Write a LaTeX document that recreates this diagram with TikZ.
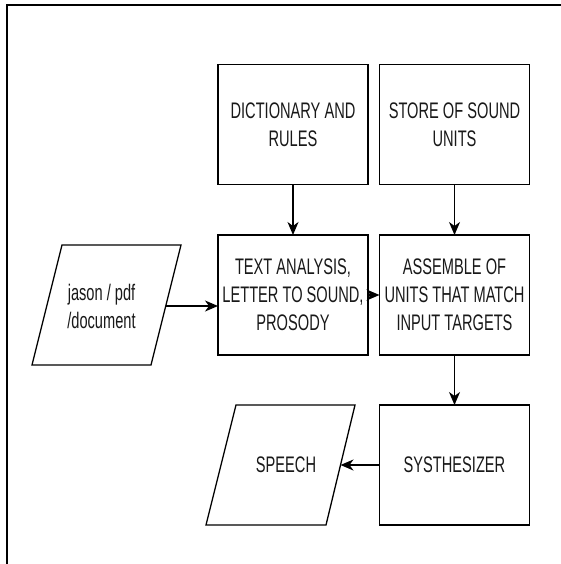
\documentclass[tikz,border=0pt]{standalone}
\usepackage{fontspec}
\newfontfamily\diagfont[FakeStretch=0.65]{Liberation Sans}
\usetikzlibrary{arrows.meta}

\begin{document}
\begin{tikzpicture}[x=1pt,y=-1pt,
  lbl/.style={font=\diagfont\fontsize{22.5}{28}\selectfont, text=black!90, align=center},
  box/.style={lbl, draw, rectangle, line width=1.3pt, minimum width=150pt,
    minimum height=120pt, inner sep=0pt, outer sep=0pt},
  ioshape/.style={draw, line width=1.3pt, line join=miter},
  flow/.style={line width=1.3pt, -{Stealth[length=13pt,width=11pt,inset=4pt]}}]

  % page area
  \useasboundingbox (0,0) rectangle (561,564);
  \fill[white] (0,0) rectangle (561,564);
  \draw[line width=2pt] (561,5) -- (7,5) -- (7,564);

  % process boxes
  \node[box] (dict)  at (293,124.5) {DICTIONARY AND\\RULES};
  \node[box] (store) at (454.5,124.5) {STORE OF SOUND\\UNITS};
  \node[box] (text)  at (293,295) {TEXT ANALYSIS,\\LETTER TO SOUND,\\PROSODY};
  \node[box] (assem) at (454.5,295) {ASSEMBLE OF\\UNITS THAT MATCH\\INPUT TARGETS};
  \node[box] (synth) at (454.5,465) {SYSTHESIZER};

  % input / output parallelograms
  \draw[ioshape] (62,245) -- (181,245) -- (151,365) -- (32,365) -- cycle;
  \node[lbl] (input) at (101.5,306) {jason / pdf\\/document};
  \coordinate (inputR) at (166,306);

  \draw[ioshape] (236,405) -- (355,405) -- (326,525) -- (206,525) -- cycle;
  \node[lbl] (speech) at (286,465) {SPEECH};
  \coordinate (speechR) at (340.5,465);

  % connectors
  \draw[flow] (dict.south) -- (text.north);
  \draw[flow] (store.south) -- (assem.north);
  \draw[flow] (inputR) -- (text.west |- inputR);
  \draw[flow] (text.east) -- (assem.west);
  \draw[flow] (assem.south) -- (synth.north);
  \draw[flow] (synth.west) -- (speechR);
\end{tikzpicture}
\end{document}
